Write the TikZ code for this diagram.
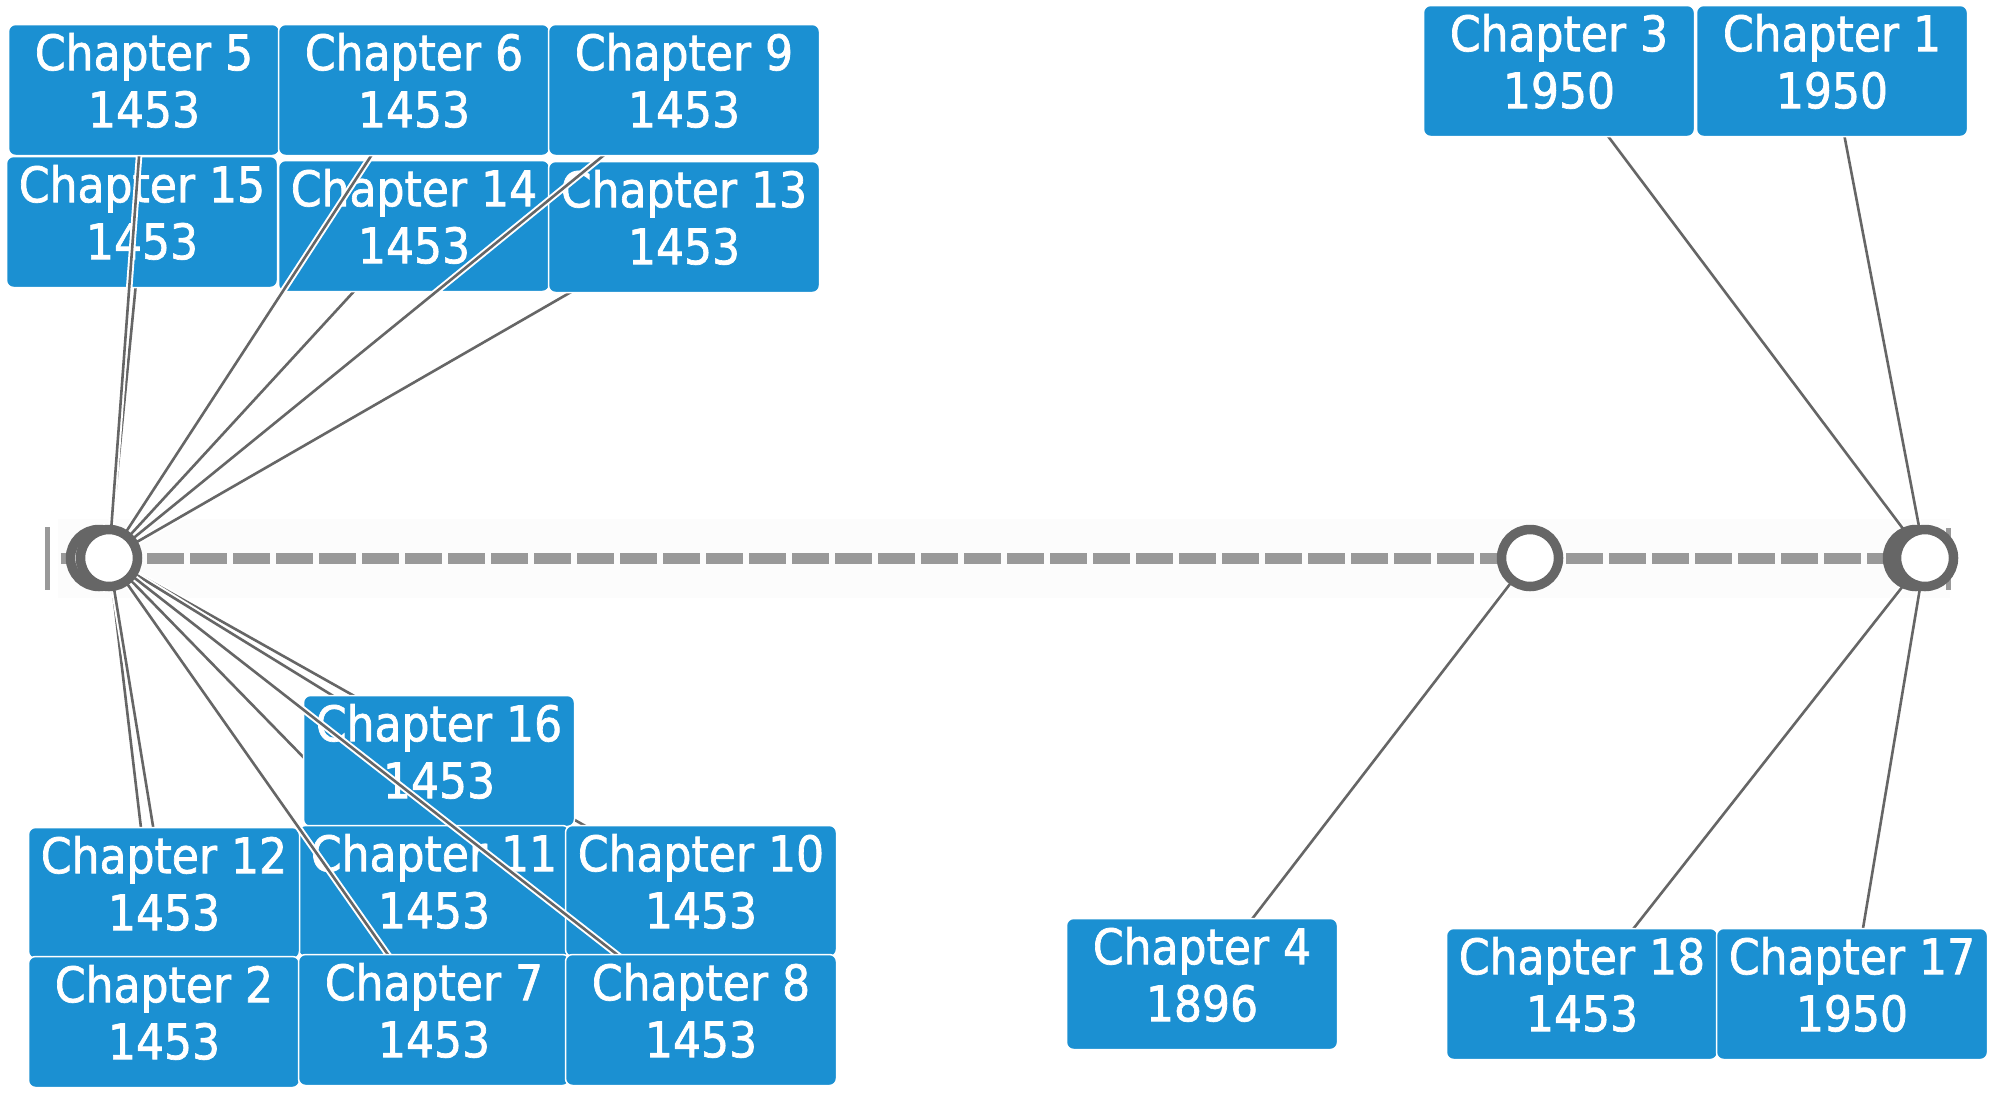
\documentclass[tikz,border=0pt]{standalone}
\usepackage{fontspec}
\newfontfamily\boxfont[FakeBold=1.4]{DejaVu Sans Condensed}
\pgfdeclarelayer{bg}
\pgfdeclarelayer{lnA}
\pgfdeclarelayer{bxA}
\pgfdeclarelayer{lnB}
\pgfdeclarelayer{top}
\pgfsetlayers{bg,lnA,bxA,lnB,main,top}
\definecolor{boxblue}{RGB}{27,144,210}
\definecolor{ringgray}{RGB}{102,102,102}
\definecolor{axisgray}{RGB}{153,153,153}
\definecolor{bandgray}{RGB}{252,252,252}
\newcommand{\evtext}[2]{\vbox to 130pt{\hsize=270pt\parindent=0pt\centering\fontsize{49}{57}\selectfont\vskip 8pt #1\par #2\par\vss}}
\tikzset{
  evbox/.style={draw=white, line width=1.5pt, fill=boxblue, rounded corners=7pt, inner sep=0pt,
    text=white, minimum width=271pt, minimum height=131pt, font=\boxfont},
  conn/.style={draw=ringgray, line width=2.6pt, preaction={draw=white, line width=6.5pt}},
  ring/.style={circle, draw=ringgray, fill=white, line width=9.5pt, minimum size=57pt, inner sep=0pt},
  axisline/.style={draw=axisgray, line width=11pt, dash pattern=on 37pt off 6pt},
  tickline/.style={draw=axisgray, line width=5pt}
}
\begin{document}
\begin{tikzpicture}[x=1pt, y=-1pt]
\useasboundingbox (0,0) rectangle (2007,1095);

% boxes on the lower box layer
\begin{pgfonlayer}{bxA}
\node[evbox] (c15) at (142,222) {\evtext{Chapter 15}{1453}};
\node[evbox] (c14) at (414,226) {\evtext{Chapter 14}{1453}};
\node[evbox] (c13) at (684,227) {\evtext{Chapter 13}{1453}};
\node[evbox] (c16) at (439,761) {\evtext{Chapter 16}{1453}};
\node[evbox] (c11) at (434,891) {\evtext{Chapter 11}{1453}};
\node[evbox] (c10) at (701,891) {\evtext{Chapter 10}{1453}};
\node[evbox] (c12) at (164,893) {\evtext{Chapter 12}{1453}};
\end{pgfonlayer}

% boxes on the main layer
\node[evbox] (c5) at (144,90) {\evtext{Chapter 5}{1453}};
\node[evbox] (c6) at (414,90) {\evtext{Chapter 6}{1453}};
\node[evbox] (c9) at (684,90) {\evtext{Chapter 9}{1453}};
\node[evbox] (c2) at (164,1022) {\evtext{Chapter 2}{1453}};
\node[evbox] (c7) at (434,1020) {\evtext{Chapter 7}{1453}};
\node[evbox] (c8) at (701,1020) {\evtext{Chapter 8}{1453}};
\node[evbox] (c3) at (1559,71) {\evtext{Chapter 3}{1950}};
\node[evbox] (c1) at (1832,71) {\evtext{Chapter 1}{1950}};
\node[evbox] (c4) at (1202,984) {\evtext{Chapter 4}{1896}};
\node[evbox] (c18) at (1582,994) {\evtext{Chapter 18}{1453}};
\node[evbox] (c17) at (1852,994) {\evtext{Chapter 17}{1950}};

% timeline markers
\begin{pgfonlayer}{top}
\node[ring] (L2) at (99,558) {};
\node[ring] (L) at (109,558) {};
\node[ring] (M) at (1530,558) {};
\node[ring] (R2) at (1916,558) {};
\node[ring] (R) at (1925,558) {};
\end{pgfonlayer}

% axis
\begin{pgfonlayer}{bg}
\fill[bandgray] (58,519) rectangle (1950,598);
\draw[tickline] (47,527) -- (47,590);
\draw[tickline] (1948,528) -- (1948,590);
\draw[axisline] (61,558) -- (1950,558);
\end{pgfonlayer}

% connectors under boxes
\begin{pgfonlayer}{lnA}
\draw[conn] (L.center) -- (c15.center);
\draw[conn] (L.center) -- (c14.center);
\draw[conn] (L.center) -- (c13.center);
\draw[conn] (L.center) -- (c2.center);
\draw[conn] (L.center) -- (c12.center);
\draw[conn] (L.center) -- (c11.center);
\draw[conn] (L.center) -- (c10.center);
\draw[conn] (L.center) -- (c16.center);
\draw[conn] (R.center) -- (c3.center);
\draw[conn] (R.center) -- (c1.center);
\draw[conn] (M.center) -- (c4.center);
\draw[conn] (R.center) -- (c18.center);
\draw[conn] (R.center) -- (c17.center);
\end{pgfonlayer}

% connectors over the lower boxes
\begin{pgfonlayer}{lnB}
\draw[conn] (L.center) -- (c5.center);
\draw[conn] (L.center) -- (c6.center);
\draw[conn] (L.center) -- (c9.center);
\draw[conn] (L.center) -- (c7.center);
\draw[conn] (L.center) -- (c8.center);
\end{pgfonlayer}
\end{tikzpicture}
\end{document}
